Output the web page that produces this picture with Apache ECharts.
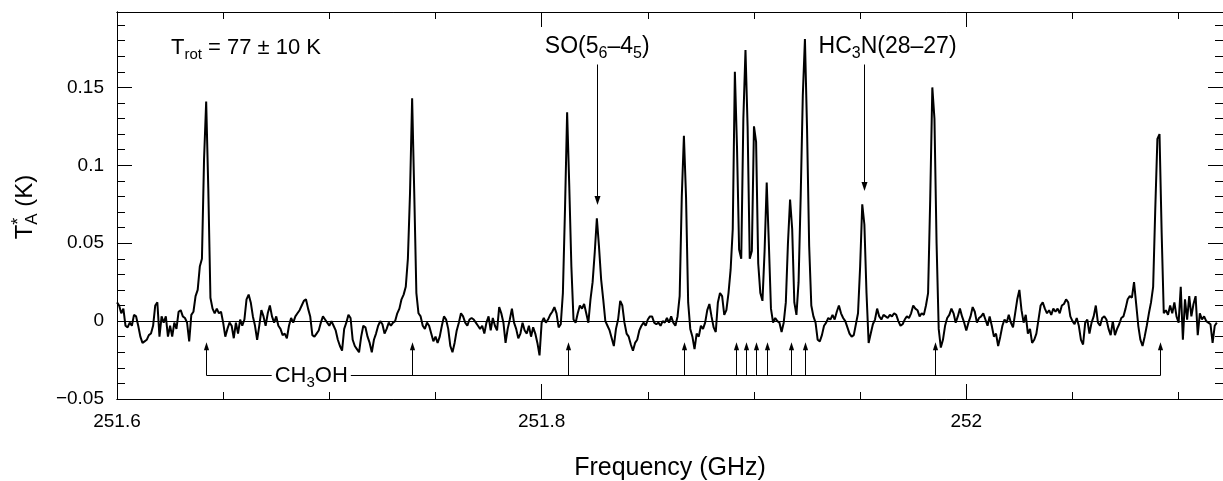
<!DOCTYPE html>
<html>
<head>
<meta charset="utf-8">
<script src="https://cdn.jsdelivr.net/npm/echarts@6/dist/echarts.min.js"></script>
<style>
html,body{margin:0;padding:0;background:#fff;}
#chart{width:1223px;height:481px;}
</style>
</head>
<body>
<div id="chart"></div>
<script>
// ---------------- data ----------------
const FREQ_START = 251.600;     // GHz, first channel
const CHANNEL_WIDTH = 0.001;    // GHz per channel
// antenna temperature per channel, in mK
const spectrumMilliK = [
  12,10,5,8,-3,-4,-1,-3,4,3,
  -3,-10,-14,-13,-12,-9,-8,-3,10,12,
  -10,3,-1,3,-10,-3,-10,-1,-5,6,
  7,3,2,-1,-13,4,6,16,20,35,
  40,104,141,85,15,8,5,8,5,6,
  -1,-10,-5,-1,-3,-11,-1,-8,1,-3,
  1,14,17,12,3,-3,-12,-3,7,3,
  -3,5,10,3,-1,3,-3,-5,-9,-8,
  -11,-3,2,-1,3,5,7,
  10,13,14,8,3,-9,-10,-8,-6,-1,
  3,1,-1,-3,0,-3,-6,-12,-16,-19,
  -5,-1,4,2,-12,-16,-18,-20,-10,-3,
  -4,-10,-14,-20,-12,-8,-3,0,-2,-8,
  -5,-1,-3,-1,0,5,8,14,17,22,
  40,82,143,82,18,5,3,-3,-5,-1,
  -3,-8,-13,-10,-14,-10,-3,3,1,-5,
  -16,-20,-14,-6,-1,5,3,-1,-3,1,
  2,1,-1,-3,-5,
  -3,-8,-1,3,-6,2,-3,-6,9,5,
  -1,-14,-5,1,8,-1,-5,-11,-8,-1,
  -6,-8,-3,-10,-4,-8,-14,-22,-1,2,
  -1,1,4,6,9,5,-4,-2,18,72,
  134,87,35,1,-1,5,10,8,11,5,
  -1,14,25,44,66,48,27,14,0,-3,
  -6,-11,-16,-5,1,13,10,-1,-8,-10,
  -15,-19,-14,-12,-6,-3,-1,-3,1,3,
  3,-1,-2,-1,-3,0,
  -1,2,-1,3,-1,-3,3,16,80,119,
  80,12,-5,-10,-18,-8,-10,-3,-5,-1,
  7,11,3,-4,-7,12,18,16,4,7,
  18,33,59,160,112,46,40,130,174,125,
  40,45,125,115,37,18,13,45,89,50,
  8,-1,2,0,-1,-7,-1,12,50,78,
  59,12,4,25,80,145,181,123,48,10,
  3,-1,-12,-13,-9,-3,-1,2,1,4,
  1,6,10,5,2,0,
  -4,-8,-10,-9,-2,5,35,75,62,18,
  -14,-8,-2,1,8,3,1,4,3,2,
  4,3,5,4,0,-3,-2,1,3,2,
  5,10,8,7,3,5,4,10,18,78,
  150,130,50,-5,-17,-12,-3,2,4,8,
  5,-1,3,8,3,-1,-6,-1,3,9,
  6,-1,2,3,5,1,-3,3,-3,-10,
  -8,-16,-10,-3,1,-1,4,-1,-4,5,
  14,20,7,-1,4,-8,
  -5,-14,-12,-8,1,10,12,8,5,7,
  4,8,6,8,5,10,11,14,12,3,
  0,-2,2,-3,-12,-15,-1,1,-8,-1,
  3,10,-1,-3,2,3,1,-5,-9,0,
  -9,-5,-2,2,3,8,14,16,15,25,
  11,-3,-12,-16,-10,-3,5,12,22,72,
  117,120,57,5,7,4,10,5,12,3,
  -1,22,-12,14,1,16,3,11,16,-9,
  5,1,3,0,-1,-2,-14,-3,-1
];
// CH3OH line frequencies (GHz) marked by the up arrows
const ch3ohFreqs = [251.6421, 251.7389, 251.8125, 251.8670, 251.8913, 251.8963,
                    251.9011, 251.9061, 251.9175, 251.9241, 251.9852, 252.0910];
// other identified lines (GHz)
const speciesFreqs = [251.8260, 251.9516];
const speciesNames = ['SO(5_{6}\u20134_{5})', 'HC_{3}N(28\u201327)'];
// tick labels
const xTickLabels = [251.6, 251.8, 252];
const yTickLabels = [-0.05, 0, 0.05, 0.1, 0.15];
const xAxisTitle = 'Frequency (GHz)';
const tempLabel = 'T_{rot} = 77 \u00b1 10 K';
const ch3ohName = 'CH_{3}OH';

// ---------------- layout / style ----------------
const FONT = '"Liberation Sans", Arial, Helvetica, sans-serif';
const X_MIN = 251.6, X_MAX = 252.1209, Y_MIN = -0.05, Y_MAX = 0.1984;
const BRACKET_Y = -0.0349, CH3OH_TIP_Y = -0.0135;
const SPECIES_TOP_Y = 0.1647, SPECIES_TIP_GAP = 0.0085;
const CH3OH_LABEL_FREQ = 251.6915;
const SPECIES_LABEL_DX = [-52, -45];
const TICK_FS = 19;

const spectrum = spectrumMilliK.map((v, i) => [FREQ_START + i * CHANNEL_WIDTH, v / 1000]);

const mctx = document.createElement('canvas').getContext('2d');
function tw(t, fs) { mctx.font = fs + 'px ' + FONT; return mctx.measureText(t).width; }
// parse "A_{bc}" strings: _{...} marks a subscript
function pieces(str) {
  const out = []; let buf = '';
  for (let i = 0; i < str.length; i++) {
    if (str[i] === '_' && str[i + 1] === '{') {
      if (buf) out.push([buf, 0]); buf = '';
      const j = str.indexOf('}', i);
      out.push([str.slice(i + 2, j), 1]); i = j;
    } else buf += str[i];
  }
  if (buf) out.push([buf, 0]);
  return out;
}
function richWidth(str, fs, sfs) { return pieces(str).reduce((s, p) => s + tw(p[0], p[1] ? sfs : fs), 0); }
function richTexts(str, x, y, fs, sfs, sdy) {
  let cx = x;
  return pieces(str).map(p => {
    const f = p[1] ? sfs : fs;
    const el = { type: 'text', x: cx, y: y + (p[1] ? sdy : 0), silent: true,
      style: { text: p[0], fill: '#000', font: f + 'px ' + FONT, textAlign: 'left', textVerticalAlign: 'middle' } };
    cx += tw(p[0], f);
    return el;
  });
}

function fmtY(v) {
  const m = yTickLabels.find(t => Math.abs(t - v) < 1e-9);
  if (m === undefined) return '';
  return m < 0 ? '\u2212' + String(-m) : String(m);
}
function fmtX(v) {
  const m = xTickLabels.find(t => Math.abs(t - v) < 1e-6);
  return m === undefined ? '' : String(m);
}

function xAx(pos, interval, len, labels) {
  return { type: 'value', position: pos, min: X_MIN, max: X_MAX, interval: interval,
    axisLine: { show: true, onZero: false, lineStyle: { color: '#000', width: 1 } },
    axisTick: { show: true, inside: true, length: len, lineStyle: { color: '#000', width: 1 } },
    axisLabel: { show: labels, formatter: fmtX, color: '#000', fontSize: TICK_FS, fontFamily: FONT, margin: 13,
                 showMinLabel: true, showMaxLabel: false },
    splitLine: { show: false } };
}
function yAx(pos, interval, len, labels) {
  return { type: 'value', position: pos, min: Y_MIN, max: Y_MAX, interval: interval,
    axisLine: { show: true, onZero: false, lineStyle: { color: '#000', width: 1 } },
    axisTick: { show: true, inside: true, length: len, lineStyle: { color: '#000', width: 1 } },
    axisLabel: { show: labels, formatter: fmtY, color: '#000', fontSize: TICK_FS, fontFamily: FONT, margin: 13,
                 showMinLabel: true, showMaxLabel: false },
    splitLine: { show: false } };
}

function peakNear(f) {
  let best = -1;
  spectrum.forEach(p => { if (Math.abs(p[0] - f) <= 0.002) best = Math.max(best, p[1]); });
  return best;
}

const chart = echarts.init(document.getElementById('chart'), null, { renderer: 'canvas' });

// y axis title T*_A (K), rotated
const yTitleChildren = (() => {
  const tW = tw('T', 24), sW = Math.max(tw('*', 18), tw('A', 17)), kW = tw(' (K)', 24);
  const x0 = -(tW + sW + kW) / 2;
  const st = (t, fs) => ({ text: t, fill: '#000', font: fs + 'px ' + FONT, textAlign: 'left', textVerticalAlign: 'middle' });
  return [
    { type: 'text', x: x0, y: 0, style: st('T', 24) },
    { type: 'text', x: x0 + tW, y: -6, style: st('*', 18) },
    { type: 'text', x: x0 + tW, y: 7, style: st('A', 17) },
    { type: 'text', x: x0 + tW + sW, y: 0, style: st(' (K)', 24) }
  ];
})();

chart.setOption({
  animation: false,
  backgroundColor: '#fff',
  grid: { left: 117, top: 12, width: 1111, height: 387, containLabel: false },
  xAxis: [ xAx('bottom', 0.2, 15, true), xAx('bottom', 0.05, 7, false),
           xAx('top', 0.2, 15, false), xAx('top', 0.05, 7, false) ],
  yAxis: [ yAx('left', 0.05, 15, true), yAx('left', 0.01, 8, false),
           yAx('right', 0.05, 15, false), yAx('right', 0.01, 8, false) ],
  graphic: [
    { type: 'group', x: 0, y: 0, children: richTexts(tempLabel, 171, 48, 22, 15, 7) },
    { type: 'text', x: 670, y: 468, style: { text: xAxisTitle, fill: '#000', font: '25px ' + FONT,
      textAlign: 'center', textVerticalAlign: 'middle' } },
    { type: 'group', x: 25, y: 207, rotation: Math.PI / 2, children: yTitleChildren }
  ],
  series: [
    { type: 'line', xAxisIndex: 0, yAxisIndex: 0, data: spectrum, showSymbol: false, symbol: 'none',
      lineStyle: { color: '#000', width: 2 }, silent: true, z: 3,
      markLine: { silent: true, symbol: 'none', label: { show: false },
        lineStyle: { color: '#000', width: 1, type: 'solid' }, data: [{ yAxis: 0 }] } },
    { type: 'custom', xAxisIndex: 0, yAxisIndex: 0, silent: true, z: 4,
      data: ch3ohFreqs.map(f => [f]),
      renderItem: (params, api) => {
        const f = api.value(0);
        const b = api.coord([f, BRACKET_Y]), t = api.coord([f, CH3OH_TIP_Y]);
        const x = Math.round(b[0]) + 0.5;
        return { type: 'group', children: [
          { type: 'line', shape: { x1: x, y1: b[1], x2: x, y2: t[1] + 6 }, style: { stroke: '#000', lineWidth: 1 } },
          { type: 'polygon', shape: { points: [[x, t[1]], [x - 2.6, t[1] + 8], [x + 2.6, t[1] + 8]] }, style: { fill: '#000' } }
        ] };
      } },
    { type: 'custom', xAxisIndex: 0, yAxisIndex: 0, silent: true, z: 4,
      data: [[CH3OH_LABEL_FREQ]],
      renderItem: (params, api) => {
        const a = api.coord([ch3ohFreqs[0], BRACKET_Y]);
        const z = api.coord([ch3ohFreqs[ch3ohFreqs.length - 1], BRACKET_Y]);
        const c = api.coord([api.value(0), BRACKET_Y]);
        const w = richWidth(ch3ohName, 22, 15);
        const y = Math.round(a[1]) + 0.5;
        return { type: 'group', children: [
          { type: 'line', shape: { x1: Math.round(a[0]) + 0.5, y1: y, x2: c[0] - w / 2 - 3, y2: y }, style: { stroke: '#000', lineWidth: 1 } },
          { type: 'line', shape: { x1: c[0] + w / 2 + 3, y1: y, x2: Math.round(z[0]) + 0.5, y2: y }, style: { stroke: '#000', lineWidth: 1 } }
        ].concat(richTexts(ch3ohName, c[0] - w / 2, a[1], 22, 15, 7)) };
      } },
    { type: 'custom', xAxisIndex: 0, yAxisIndex: 0, silent: true, z: 4,
      data: speciesFreqs.map(f => [f, peakNear(f)]),
      renderItem: (params, api) => {
        const f = api.value(0), pk = api.value(1), i = params.dataIndex;
        const top = api.coord([f, SPECIES_TOP_Y]), tip = api.coord([f, pk + SPECIES_TIP_GAP]);
        const x = Math.round(top[0]) + 0.5;
        return { type: 'group', children: [
          { type: 'line', shape: { x1: x, y1: top[1], x2: x, y2: tip[1] - 6 }, style: { stroke: '#000', lineWidth: 1 } },
          { type: 'polygon', shape: { points: [[x, tip[1]], [x - 3, tip[1] - 9], [x + 3, tip[1] - 9]] }, style: { fill: '#000' } }
        ].concat(richTexts(speciesNames[i], top[0] + SPECIES_LABEL_DX[i], top[1] - 18, 23, 16, 7)) };
      } }
  ]
});
</script>
</body>
</html>
